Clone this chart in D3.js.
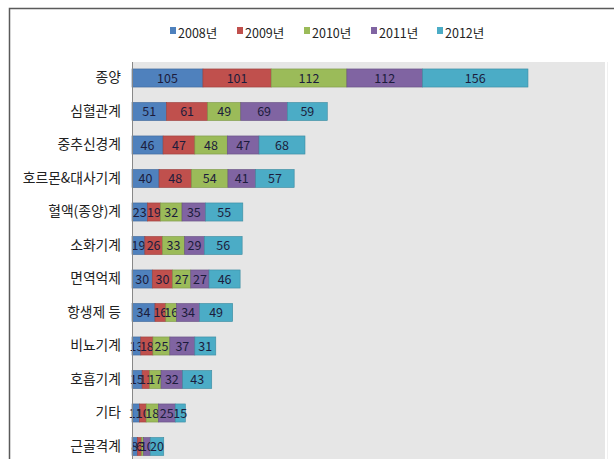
<!DOCTYPE html>
<html>
<head>
<meta charset="utf-8">
<script src="https://cdn.jsdelivr.net/npm/d3@7"></script>
<style>
body { margin: 0; background: #fff; }
text { font-family: "Noto Sans CJK KR", "Noto Sans", sans-serif; }
</style>
</head>
<body>
<div class="graphic"></div>
<script>
var width = 614;
var height = 459;

var categories = ["종양", "심혈관계", "중추신경계", "호르몬&대사기계", "혈액(종양)계", "소화기계",
	"면역억제", "항생제 등", "비뇨기계", "호흡기계", "기타", "근골격계"];
var years = ["2008년", "2009년", "2010년", "2011년", "2012년"];
var v2008 = [105, 51, 46, 40, 23, 19, 30, 34, 13, 15, 11, 8];
var v2009 = [101, 61, 47, 48, 19, 26, 30, 16, 18, 11, 10, 6];
var v2010 = [112, 49, 48, 54, 32, 33, 27, 16, 25, 17, 18, 3];
var v2011 = [112, 69, 47, 41, 35, 29, 27, 34, 37, 32, 25, 10];
var v2012 = [156, 59, 68, 57, 55, 56, 46, 49, 31, 43, 15, 20];
var colors = ["#4F81BD", "#C0504D", "#9BBB59", "#8064A2", "#4BACC6"];

var series = [v2008, v2009, v2010, v2011, v2012];
var table = categories.map(function(c, i){
	var row = {cat: c};
	years.forEach(function(y, j){ row[y] = series[j][i]; });
	return row;
});
var stacked = d3.stack().keys(years)(table);

var svg = d3.select("div.graphic").append("svg")
	.attr("width", width)
	.attr("height", height);

// outer frame
svg.append("path")
	.attr("d", "M9.5," + height + "V8.5H" + width)
	.attr("fill", "none")
	.attr("stroke", "#5a5a5a")
	.attr("stroke-width", 1.5);

var x = d3.scaleLinear().domain([0, 700]).range([132, 605]);
var y = d3.scaleBand().domain(categories).range([61.25, 463.25]).paddingInner(0.46).paddingOuter(0.23);

// plot background
svg.append("rect")
	.attr("x", 132).attr("y", 62)
	.attr("width", 473).attr("height", height - 62)
	.attr("fill", "#e6e6e6");
svg.append("line")
	.attr("x1", 607.5).attr("x2", 607.5)
	.attr("y1", 62).attr("y2", height)
	.attr("stroke", "#f0f0f0");

var layers = svg.append("g").selectAll("g")
	.data(stacked)
	.enter()
	.append("g")
	.attr("fill", function(d, i){ return colors[i]; })
	.attr("stroke", function(d, i){ return d3.color(colors[i]).darker(0.6); });

layers.selectAll("rect")
	.data(function(d){ return d; })
	.enter()
	.append("rect")
	.attr("x", function(d){ return x(d[0]); })
	.attr("width", function(d){ return x(d[1]) - x(d[0]); })
	.attr("y", function(d){ return y(d.data.cat); })
	.attr("height", y.bandwidth())
	.attr("stroke-width", 0.6);

// value labels, centered in each segment (small ones overlap like the original)
layers.selectAll("text")
	.data(function(d){ return d.map(function(p){ p.key = d.key; return p; }); })
	.enter()
	.append("text")
	.attr("x", function(d){ return (x(d[0]) + x(d[1])) / 2; })
	.attr("y", function(d){ return y(d.data.cat) + y.bandwidth() / 2; })
	.attr("dy", "0.36em")
	.attr("text-anchor", "middle")
	.attr("fill", "#1c1c3c")
	.attr("stroke", "none")
	.attr("font-size", 12.5)
	.text(function(d){ return d.data[d.key]; });

// axis
var yAxis = d3.axisLeft(y).tickSize(0).tickPadding(11);
var axisG = svg.append("g")
	.attr("transform", "translate(132,0)")
	.call(yAxis);
axisG.select(".domain")
	.attr("d", "M0.5,62V" + height)
	.attr("stroke", "#888");
axisG.selectAll("text")
	.attr("font-size", 13.8)
	.attr("fill", "#222")
	.style("font-family", '"Noto Sans CJK KR", sans-serif');

// legend
var legendX = [170, 237, 304, 371, 437];
var legend = svg.append("g").selectAll("g")
	.data(years)
	.enter()
	.append("g")
	.attr("transform", function(d, i){ return "translate(" + legendX[i] + ",33)"; });
legend.append("rect")
	.attr("x", 0).attr("y", -6)
	.attr("width", 6).attr("height", 7)
	.attr("fill", function(d, i){ return colors[i]; });
legend.append("text")
	.attr("x", 8)
	.attr("y", 0)
	.attr("dy", "0.36em")
	.attr("font-size", 12.5)
	.attr("fill", "#222")
	.text(function(d){ return d; });
</script>
</body>
</html>
